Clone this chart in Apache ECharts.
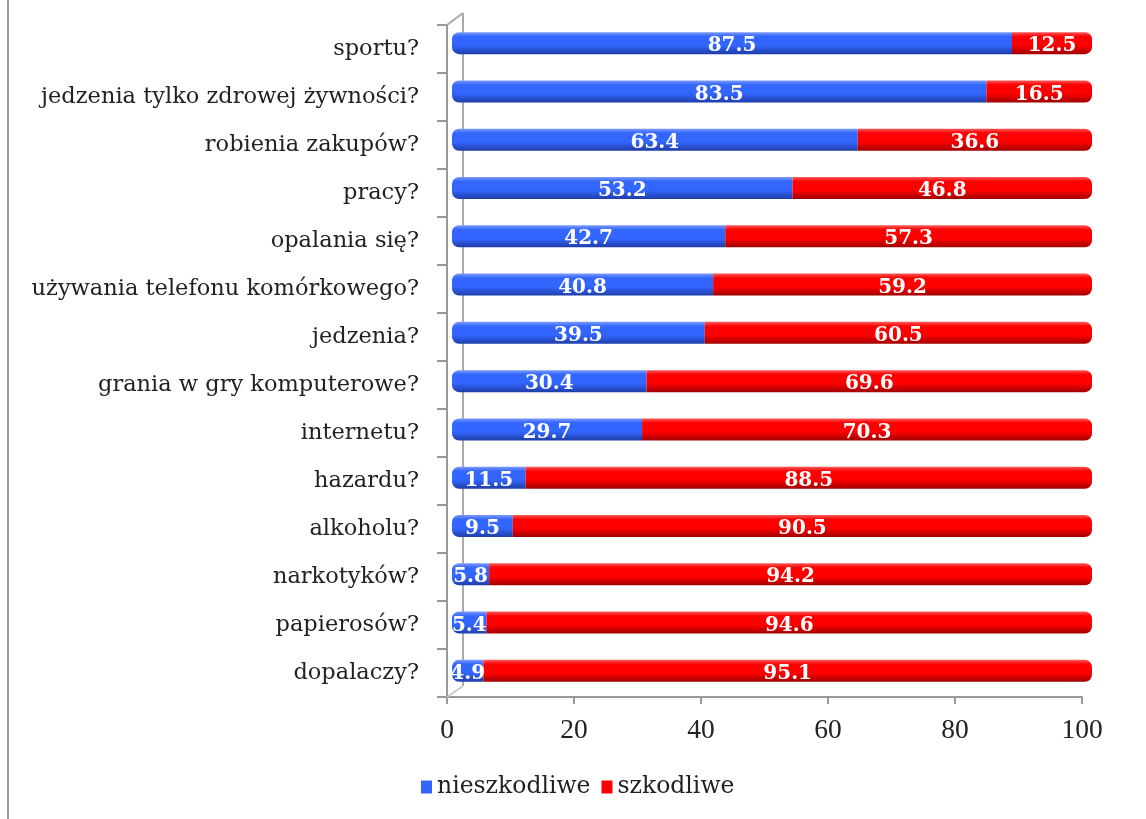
<!DOCTYPE html>
<html><head><meta charset="utf-8">
<script src="https://cdn.jsdelivr.net/npm/echarts@6/dist/echarts.min.js"></script>
<style>html,body{margin:0;padding:0;background:#fff}#c{width:1146px;height:819px}</style>
</head><body><div id="c"></div>
<script>
var categories = ['sportu?','jedzenia tylko zdrowej żywności?','robienia zakupów?','pracy?','opalania się?','używania telefonu komórkowego?','jedzenia?','grania w gry komputerowe?','internetu?','hazardu?','alkoholu?','narkotyków?','papierosów?','dopalaczy?'];
var nieszkodliwe = [87.5,83.5,63.4,53.2,42.7,40.8,39.5,30.4,29.7,11.5,9.5,5.8,5.4,4.9];
var szkodliwe = [12.5,16.5,36.6,46.8,57.3,59.2,60.5,69.6,70.3,88.5,90.5,94.2,94.6,95.1];
var xTicks = [0,20,40,60,80,100];

var FONT = '"DejaVu Serif", serif';
var FONT2 = '"Liberation Serif", serif';
var chart = echarts.init(document.getElementById('c'));
function grad(a,b,c){return new echarts.graphic.LinearGradient(0,0,0,1,[{offset:0,color:a},{offset:0.2,color:b},{offset:0.6,color:b},{offset:1,color:c}]);}
var xmin = xTicks[0], xmax = xTicks[xTicks.length-1];
chart.setOption({
  animation:false,
  grid:[
    {left:447,right:64,top:25,bottom:122},
    {left:452,right:54,top:19,bottom:124}
  ],
  legend:{top:770,left:416,itemWidth:11,itemHeight:13,itemGap:11,icon:'rect',
    textStyle:{fontFamily:FONT,fontSize:23.5,color:'#222'},
    data:[{name:'nieszkodliwe',itemStyle:{color:'#3366FF'}},{name:'szkodliwe',itemStyle:{color:'#FF0000'}}]},
  xAxis:[
    {gridIndex:0,type:'value',min:xmin,max:xmax,interval:20,
      axisLine:{show:true,lineStyle:{color:'#999',width:2}},
      axisTick:{show:true,length:7,lineStyle:{color:'#999',width:2}},
      splitLine:{show:false},
      axisLabel:{fontFamily:FONT2,fontSize:27.5,color:'#222',margin:20}},
    {gridIndex:1,type:'value',min:xmin,max:xmax,show:false,splitLine:{show:false}}
  ],
  yAxis:[
    {gridIndex:0,type:'category',data:categories,inverse:true,
      axisLine:{show:true,lineStyle:{color:'#999',width:2}},
      axisTick:{show:true,length:10,lineStyle:{color:'#999',width:2}},
      axisLabel:{fontFamily:FONT,fontSize:22.5,color:'#222',margin:28,padding:[6,0,0,0]}},
    {gridIndex:1,type:'category',data:categories,inverse:true,show:false}
  ],
  series:[
    {name:'nieszkodliwe',type:'bar',stack:'a',xAxisIndex:1,yAxisIndex:1,barWidth:22,data:nieszkodliwe,z:3,
     itemStyle:{color:grad('#7D9BFF','#3366FF','#1E3DA8'),borderRadius:[7,0,0,7]},
     label:{show:true,position:'inside',color:'#fff',fontFamily:FONT,fontWeight:'bold',fontSize:20,offset:[0,3]}},
    {name:'szkodliwe',type:'bar',stack:'a',xAxisIndex:1,yAxisIndex:1,barWidth:22,data:szkodliwe,z:3,
     itemStyle:{color:grad('#FF5A5A','#FF0000','#A00000'),borderRadius:[0,7,7,0]},
     label:{show:true,position:'inside',color:'#fff',fontFamily:FONT,fontWeight:'bold',fontSize:20,offset:[0,3]}}
  ],
  graphic:[
    {type:'line',shape:{x1:8,y1:0,x2:8,y2:819},style:{stroke:'#999',lineWidth:2}},
    {type:'line',z:1,shape:{x1:463,y1:13,x2:463,y2:686},style:{stroke:'#aaa',lineWidth:2}},
    {type:'line',z:1,shape:{x1:447,y1:25,x2:463,y2:13},style:{stroke:'#aaa',lineWidth:2}},
    {type:'line',z:1,shape:{x1:447,y1:697,x2:463,y2:686},style:{stroke:'#ccc',lineWidth:2}}
  ]
});
</script></body></html>
